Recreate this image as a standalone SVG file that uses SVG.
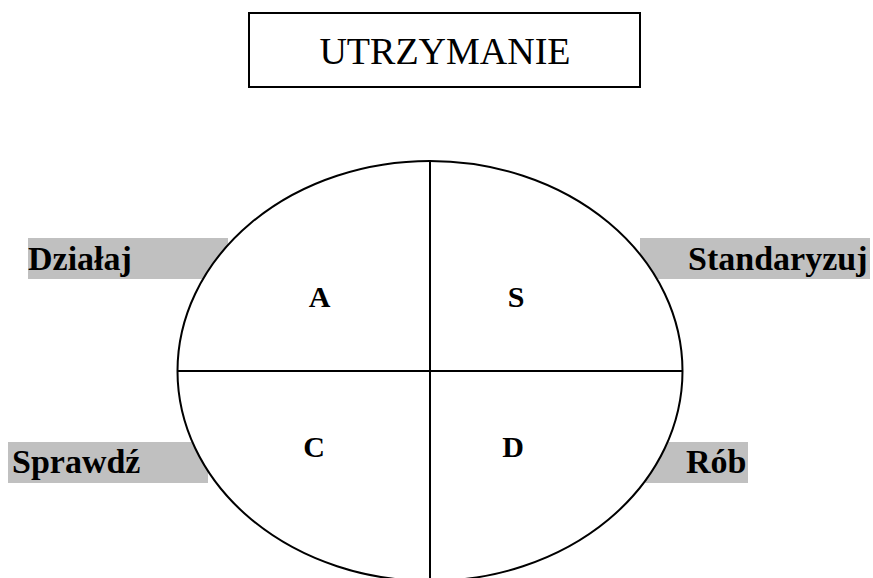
<svg xmlns="http://www.w3.org/2000/svg" width="873" height="578" viewBox="0 0 873 578">
  <style>
    .bar { fill: #c0c0c0; }
    .lbl { font-family: "Liberation Serif", "Times New Roman", serif; font-weight: bold; font-size: 34px; fill: #000; }
    .quad { font-family: "Liberation Serif", "Times New Roman", serif; font-weight: bold; font-size: 30px; fill: #000; text-anchor: middle; }
    .ln { stroke: #000; stroke-width: 2; fill: none; }
  </style>
  <rect width="873" height="578" fill="#fff"/>
  <g id="title">
    <rect x="249" y="13" width="391" height="74" fill="#fff" stroke="#000" stroke-width="2"/>
    <text x="445" y="64" text-anchor="middle" font-family="Liberation Serif, Times New Roman, serif" font-size="38">UTRZYMANIE</text>
  </g>
  <g id="dzialaj">
    <rect class="bar" x="28" y="238" width="200" height="41"/>
    <text class="lbl" x="28" y="270">Działaj</text>
  </g>
  <g id="standaryzuj">
    <rect class="bar" x="640" y="238" width="230" height="41"/>
    <text class="lbl" x="688" y="270">Standaryzuj</text>
  </g>
  <g id="sprawdz">
    <rect class="bar" x="8" y="442" width="200" height="41"/>
    <text class="lbl" x="12" y="473">Sprawdź</text>
  </g>
  <g id="rob">
    <rect class="bar" x="640" y="442" width="108" height="41"/>
    <text class="lbl" x="686" y="473">Rób</text>
  </g>
  <g id="cycle">
    <ellipse cx="430" cy="371" rx="252.5" ry="210" fill="#fff" stroke="#000" stroke-width="2"/>
  </g>
  <g id="connectors">
    <line class="ln" x1="430" y1="161" x2="430" y2="578"/>
    <line class="ln" x1="178" y1="371" x2="682" y2="371"/>
  </g>
  <g id="quadrants">
    <text class="quad" x="319.5" y="307">A</text>
    <text class="quad" x="516" y="307">S</text>
    <text class="quad" x="314" y="457">C</text>
    <text class="quad" x="513" y="457">D</text>
  </g>
</svg>
